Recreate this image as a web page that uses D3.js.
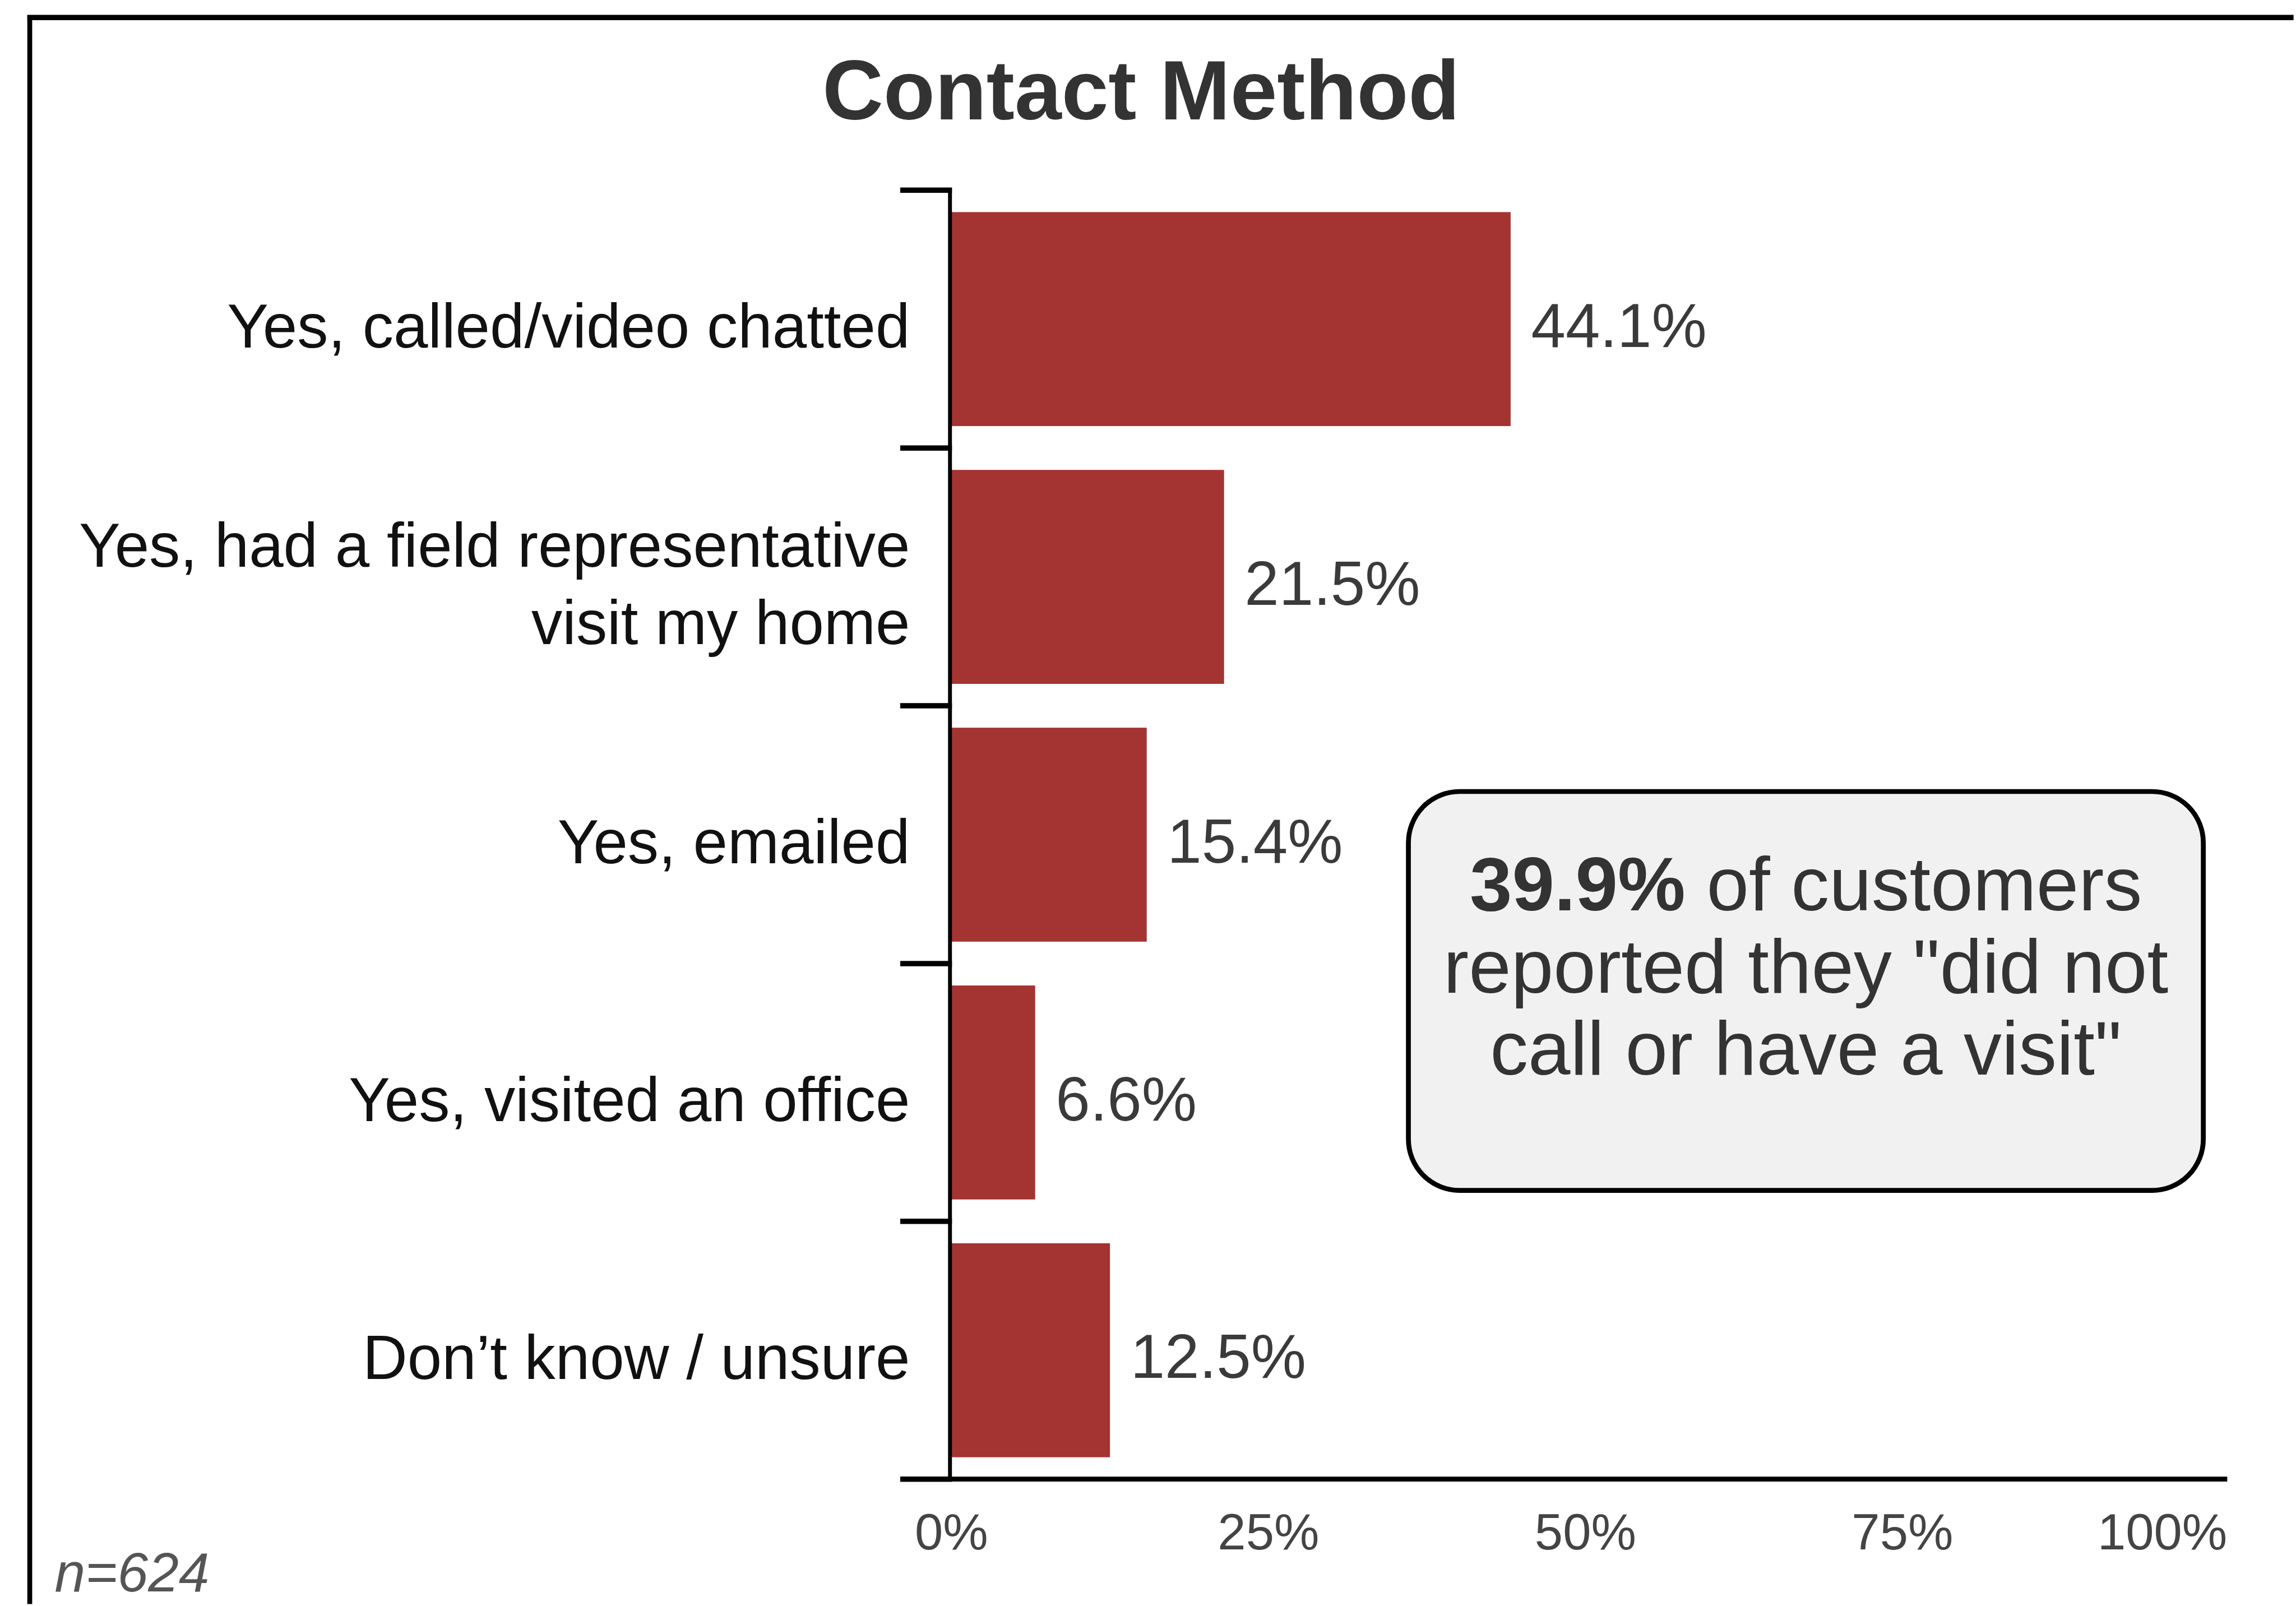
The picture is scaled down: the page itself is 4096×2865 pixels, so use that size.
<!DOCTYPE html>
<html>
<head>
<meta charset="utf-8">
<script src="https://cdn.jsdelivr.net/npm/d3@7"></script>
<style>
  html, body { margin: 0; padding: 0; background: #fff; }
  svg { display: block; font-family: "Liberation Sans", Arial, sans-serif; }
</style>
</head>
<body>
<div id="chart"></div>
<script>
// Chart data
var categories = [
    "Yes, called/video chatted",
    "Yes, had a field representative\nvisit my home",
    "Yes, emailed",
    "Yes, visited an office",
    "Don\u2019t know / unsure"
];
var values = [44.1, 21.5, 15.4, 6.6, 12.5];
var tickValues = [0, 25, 50, 75, 100];
var tickLabels = ["0%", "25%", "50%", "75%", "100%"];
var titleText = "Contact Method";
var noteBold = "39.9%";
var noteLines = [" of customers", "reported they \"did not", "call or have a visit\""];
var sampleText = "n=624";

// Layout is set in reference units, then scaled down to the window
var width = 4096, height = 2865, k = 0.87;
var barColor = "#a33431";

var svg = d3.select("#chart").append("svg")
    .attr("width", width)
    .attr("height", height);

var g = svg.append("g").attr("transform", "scale(" + k + ")");

// Frame (top and left edges only)
g.append("line")
    .attr("x1", 56).attr("x2", 4703)
    .attr("y1", 36).attr("y2", 36)
    .attr("stroke", "#000").attr("stroke-width", 11);
g.append("line")
    .attr("x1", 61).attr("x2", 61)
    .attr("y1", 31).attr("y2", 3289)
    .attr("stroke", "#000").attr("stroke-width", 10);

// Title
g.append("text")
    .attr("x", 2340).attr("y", 245)
    .attr("text-anchor", "middle")
    .attr("font-size", 173)
    .attr("font-weight", "bold")
    .attr("fill", "#333")
    .text(titleText);

// Scales
var x = d3.scaleLinear()
    .domain([0, 100])
    .range([1951, 4551]);

var y = d3.scaleBand()
    .domain(categories)
    .range([390, 3033])
    .paddingInner(0.17)
    .paddingOuter(0.085);

var step = y.step();

// Bars
g.selectAll(".bar")
    .data(values)
    .enter().append("rect")
    .attr("class", "bar")
    .attr("x", x(0))
    .attr("y", function(d, i) { return y(categories[i]); })
    .attr("width", function(d) { return x(d) - x(0); })
    .attr("height", y.bandwidth())
    .attr("fill", barColor);

// Value labels
g.selectAll(".value-label")
    .data(values)
    .enter().append("text")
    .attr("class", "value-label")
    .attr("x", function(d) { return x(d) + 42; })
    .attr("y", function(d, i) { return y(categories[i]) + y.bandwidth() / 2; })
    .attr("dy", "0.45em")
    .attr("font-size", 127)
    .attr("fill", "#3a3a3a")
    .text(function(d) { return d.toFixed(1) + "%"; });

// Category separators (ticks between bands)
var bounds = categories.map(function(c) { return y(c) - step * y.paddingInner() / 2; });
bounds.push(y.range()[1]);
g.selectAll(".sep")
    .data(bounds)
    .enter().append("line")
    .attr("class", "sep")
    .attr("x1", 1846).attr("x2", 1952)
    .attr("y1", function(d) { return d; })
    .attr("y2", function(d) { return d; })
    .attr("stroke", "#000")
    .attr("stroke-width", 11);

// Y axis line
g.append("line")
    .attr("x1", 1948).attr("x2", 1948)
    .attr("y1", bounds[0] - 5).attr("y2", y.range()[1])
    .attr("stroke", "#000").attr("stroke-width", 8);

// X axis line
g.append("line")
    .attr("x1", 1846).attr("x2", 4567)
    .attr("y1", 3033).attr("y2", 3033)
    .attr("stroke", "#000").attr("stroke-width", 10);

// Category labels
var catLabel = g.selectAll(".cat-label")
    .data(categories)
    .enter().append("text")
    .attr("class", "cat-label")
    .attr("text-anchor", "end")
    .attr("font-size", 127)
    .attr("fill", "#111")
    .attr("transform", function(d) {
        return "translate(1866," + (y(d) + y.bandwidth() / 2) + ")";
    });

catLabel.each(function(d) {
    var lines = d.split("\n");
    var lh = 1.25;
    var start = -(lines.length - 1) * lh / 2 + 0.46;
    d3.select(this).selectAll("tspan")
        .data(lines)
        .enter().append("tspan")
        .attr("x", 0)
        .attr("y", function(l, i) { return ((start + i * lh) * 127) + "px"; })
        .text(function(l) { return l; });
});

// X tick labels
g.selectAll(".tick-label")
    .data(tickValues)
    .enter().append("text")
    .attr("class", "tick-label")
    .attr("x", function(d, i) { return i === tickValues.length - 1 ? 4567 : x(d); })
    .attr("y", 3177)
    .attr("text-anchor", function(d, i) { return i === tickValues.length - 1 ? "end" : "middle"; })
    .attr("font-size", 104)
    .attr("fill", "#444")
    .text(function(d, i) { return tickLabels[i]; });

// Annotation box
g.append("rect")
    .attr("x", 2888).attr("y", 1623)
    .attr("width", 1630).attr("height", 818)
    .attr("rx", 105).attr("ry", 105)
    .attr("fill", "#f1f1f1")
    .attr("stroke", "#000")
    .attr("stroke-width", 10);

var note = g.append("text")
    .attr("text-anchor", "middle")
    .attr("font-size", 156)
    .attr("fill", "#333");

var first = note.append("tspan").attr("x", 3703).attr("y", 1867);
first.append("tspan").attr("font-weight", "bold").text(noteBold);
first.append("tspan").text(noteLines[0]);
note.append("tspan").attr("x", 3703).attr("y", 2036).text(noteLines[1]);
note.append("tspan").attr("x", 3703).attr("y", 2203).text(noteLines[2]);

// Sample size
g.append("text")
    .attr("x", 112).attr("y", 3263)
    .attr("font-size", 113)
    .attr("font-style", "italic")
    .attr("fill", "#555")
    .text(sampleText);
</script>
</body>
</html>
